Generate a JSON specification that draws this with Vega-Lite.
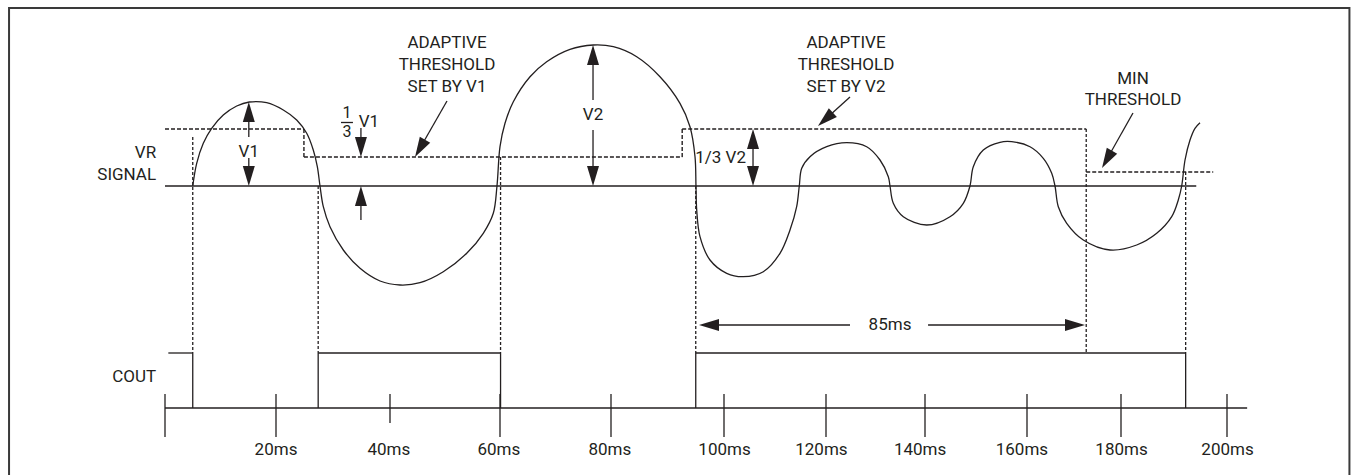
{
  "$schema": "https://vega.github.io/schema/vega-lite/v6.json",
  "width": 1351,
  "height": 475,
  "autosize": "none",
  "padding": 0,
  "background": "white",
  "config": {"view": {"stroke": null}},
  "datasets": {
    "frame": [{"t": -28.1, "t2": 223.1, "y": 17.8, "y2": -29.4}],
    "thresh": [
      {"t": 0, "y": 5.7, "t2": 24.9, "y2": 5.7},
      {"t": 24.9, "y": 5.7, "t2": 24.9, "y2": 2.9},
      {"t": 24.9, "y": 2.9, "t2": 92.6, "y2": 2.9},
      {"t": 92.6, "y": 2.9, "t2": 92.6, "y2": 5.7},
      {"t": 92.6, "y": 5.7, "t2": 172.6, "y2": 5.7},
      {"t": 172.6, "y": 1.4, "t2": 197.4, "y2": 1.4}
    ],
    "vdash": [
      {"t": 5.0, "y": 4.9, "t2": 5.0, "y2": -16.7},
      {"t": 27.4, "y": 0, "t2": 27.4, "y2": -16.7},
      {"t": 60.1, "y": 2.9, "t2": 60.1, "y2": -16.7},
      {"t": 95.0, "y": 0, "t2": 95.0, "y2": -16.7},
      {"t": 172.6, "y": 5.7, "t2": 172.6, "y2": -16.7},
      {"t": 192.2, "y": 1.4, "t2": 192.2, "y2": -16.7}
    ],
    "solid": [
      {"t": 0, "y": 0, "t2": 194.2, "y2": 0},
      {"t": 0.6, "y": -16.7, "t2": 5.0, "y2": -16.7},
      {"t": 5.0, "y": -16.7, "t2": 5.0, "y2": -22.2},
      {"t": 27.4, "y": -22.2, "t2": 27.4, "y2": -16.7},
      {"t": 27.4, "y": -16.7, "t2": 60.1, "y2": -16.7},
      {"t": 60.1, "y": -16.7, "t2": 60.1, "y2": -22.2},
      {"t": 95.0, "y": -22.2, "t2": 95.0, "y2": -16.7},
      {"t": 95.0, "y": -16.7, "t2": 192.2, "y2": -16.7},
      {"t": 192.2, "y": -16.7, "t2": 192.2, "y2": -22.2},
      {"t": 0, "y": -22.2, "t2": 203.8, "y2": -22.2},
      {"t": 15.1, "y": 6.4, "t2": 15.1, "y2": 4.9},
      {"t": 15.1, "y": 2.8, "t2": 15.1, "y2": 2.0},
      {"t": 34.9, "y": 5.8, "t2": 34.9, "y2": 4.9},
      {"t": 34.9, "y": -2.0, "t2": 34.9, "y2": -3.4},
      {"t": 76.76, "y": 12.1, "t2": 76.76, "y2": 8.6},
      {"t": 76.76, "y": 5.6, "t2": 76.76, "y2": 2.0},
      {"t": 105.69, "y": 3.7, "t2": 105.69, "y2": 2.0},
      {"t": 97.0, "y": -13.9, "t2": 124.85, "y2": -13.9},
      {"t": 140.6, "y": -13.9, "t2": 170.5, "y2": -13.9},
      {"t": 50.36, "y": 8.5, "t2": 45.45, "y2": 3.77},
      {"t": 124.85, "y": 8.9, "t2": 119.88, "y2": 6.67},
      {"t": 182.26, "y": 7.3, "t2": 177.0, "y2": 2.67},
      {"t": 31.4, "y": 6.35, "t2": 33.5, "y2": 6.35}
    ],
    "ticks": [
      {"t": 0, "y": -20.8, "y2": -25.1},
      {"t": 20, "y": -20.8, "y2": -25.1},
      {"t": 40, "y": -20.8, "y2": -23.7},
      {"t": 60, "y": -20.8, "y2": -25.1},
      {"t": 80, "y": -20.8, "y2": -25.1},
      {"t": 100, "y": -20.8, "y2": -25.1},
      {"t": 120, "y": -20.8, "y2": -25.1},
      {"t": 140, "y": -20.8, "y2": -25.1},
      {"t": 160, "y": -20.8, "y2": -25.1},
      {"t": 180, "y": -20.8, "y2": -25.1},
      {"t": 200, "y": -20.8, "y2": -25.1}
    ],
    "signal": [
      {"t": 5.0, "y": 0}, {"t": 5.71, "y": 2.27}, {"t": 6.9, "y": 4.27}, {"t": 8.41, "y": 5.77},
      {"t": 10.5, "y": 7.1}, {"t": 12.92, "y": 8.0}, {"t": 15.19, "y": 8.4}, {"t": 18.32, "y": 8.33},
      {"t": 21.28, "y": 7.6}, {"t": 23.63, "y": 6.6}, {"t": 25.39, "y": 5.27}, {"t": 26.54, "y": 3.6},
      {"t": 27.25, "y": 1.93}, {"t": 27.72, "y": 0}, {"t": 28.3, "y": -2.07}, {"t": 29.47, "y": -4.07},
      {"t": 31.81, "y": -6.4}, {"t": 34.74, "y": -8.23}, {"t": 38.25, "y": -9.5}, {"t": 41.82, "y": -9.9},
      {"t": 45.45, "y": -9.67}, {"t": 49.69, "y": -8.57}, {"t": 53.95, "y": -6.73}, {"t": 56.96, "y": -4.73},
      {"t": 58.78, "y": -2.73}, {"t": 59.45, "y": 0}, {"t": 60.0, "y": 3.93}, {"t": 60.9, "y": 6.27},
      {"t": 62.4, "y": 8.43}, {"t": 65.41, "y": 10.93}, {"t": 68.41, "y": 12.43}, {"t": 72.61, "y": 13.67},
      {"t": 76.81, "y": 14.1}, {"t": 80.41, "y": 13.93}, {"t": 84.55, "y": 12.93}, {"t": 88.67, "y": 10.93},
      {"t": 92.21, "y": 8.27}, {"t": 93.98, "y": 5.93}, {"t": 94.87, "y": 2.93}, {"t": 95.04, "y": 0},
      {"t": 95.17, "y": -2.4}, {"t": 95.75, "y": -5.07}, {"t": 97.52, "y": -7.4}, {"t": 100.53, "y": -8.73},
      {"t": 103.78, "y": -9.07}, {"t": 107.71, "y": -8.57}, {"t": 110.98, "y": -6.73}, {"t": 112.94, "y": -4.4},
      {"t": 114.25, "y": -2.07}, {"t": 114.76, "y": 0}, {"t": 115.24, "y": 1.77}, {"t": 116.86, "y": 2.93},
      {"t": 120.14, "y": 3.93}, {"t": 124.18, "y": 4.33}, {"t": 128.22, "y": 3.93}, {"t": 130.91, "y": 2.6},
      {"t": 132.59, "y": 0.93}, {"t": 132.93, "y": 0}, {"t": 133.6, "y": -1.73}, {"t": 135.62, "y": -3.07},
      {"t": 140.33, "y": -3.9}, {"t": 144.9, "y": -3.07}, {"t": 147.51, "y": -1.73}, {"t": 148.82, "y": 0},
      {"t": 149.47, "y": 1.93}, {"t": 151.43, "y": 3.6}, {"t": 154.71, "y": 4.37}, {"t": 157.0, "y": 4.43},
      {"t": 160.64, "y": 3.93}, {"t": 163.47, "y": 2.77}, {"t": 165.26, "y": 1.27}, {"t": 165.96, "y": 0},
      {"t": 166.66, "y": -2.07}, {"t": 168.45, "y": -3.73}, {"t": 171.98, "y": -5.4}, {"t": 177.66, "y": -6.4},
      {"t": 182.96, "y": -5.9}, {"t": 186.74, "y": -4.73}, {"t": 189.57, "y": -3.07}, {"t": 190.81, "y": -1.4},
      {"t": 191.45, "y": 0}, {"t": 192.08, "y": 2.6}, {"t": 193.02, "y": 4.6}, {"t": 193.96, "y": 5.77},
      {"t": 194.91, "y": 6.33}
    ],
    "heads": [
      {"t": 15.1, "y": 8.4, "dir": "up"},
      {"t": 76.76, "y": 14.1, "dir": "up"},
      {"t": 34.9, "y": 0, "dir": "up"},
      {"t": 105.69, "y": 5.7, "dir": "up"},
      {"t": 15.1, "y": 0, "dir": "down"},
      {"t": 34.9, "y": 2.9, "dir": "down"},
      {"t": 76.76, "y": 0, "dir": "down"},
      {"t": 105.69, "y": 0, "dir": "down"},
      {"t": 95.58, "y": -13.9, "dir": "left"},
      {"t": 172.34, "y": -13.9, "dir": "right"},
      {"t": 44.55, "y": 2.9, "dir": "downleft"},
      {"t": 175.96, "y": 1.8, "dir": "downleft"},
      {"t": 118.43, "y": 6.0, "dir": "downleft2"}
    ],
    "texts": [
      {"t": 50.36, "y": 14.3, "text": "ADAPTIVE"},
      {"t": 50.36, "y": 12.1, "text": "THRESHOLD"},
      {"t": 50.36, "y": 9.9, "text": "SET BY V1"},
      {"t": 124.04, "y": 14.3, "text": "ADAPTIVE"},
      {"t": 124.04, "y": 12.1, "text": "THRESHOLD"},
      {"t": 124.04, "y": 9.9, "text": "SET BY V2"},
      {"t": 182.26, "y": 10.75, "text": "MIN"},
      {"t": 182.26, "y": 8.6, "text": "THRESHOLD"},
      {"t": 15.1, "y": 3.45, "text": "V1"},
      {"t": 76.76, "y": 7.1, "text": "V2"},
      {"t": 36.3, "y": 6.4, "text": "V1"},
      {"t": 132.93, "y": -13.9, "text": "85ms"},
      {"t": 20.0, "y": -26.4, "text": "20ms"},
      {"t": 39.8, "y": -26.4, "text": "40ms"},
      {"t": 59.8, "y": -26.4, "text": "60ms"},
      {"t": 79.8, "y": -26.4, "text": "80ms"},
      {"t": 100.1, "y": -26.4, "text": "100ms"},
      {"t": 119.1, "y": -26.4, "text": "120ms"},
      {"t": 139.0, "y": -26.4, "text": "140ms"},
      {"t": 159.0, "y": -26.4, "text": "160ms"},
      {"t": 180.1, "y": -26.4, "text": "180ms"},
      {"t": 200.1, "y": -26.4, "text": "200ms"}
    ],
    "rtexts": [
      {"t": -1.6, "y": 3.3, "text": "VR"},
      {"t": -1.6, "y": 1.1, "text": "SIGNAL"},
      {"t": -1.6, "y": -19.05, "text": "COUT"},
      {"t": 104.31, "y": 2.8, "text": "1/3 V2"}
    ],
    "frac": [
      {"t": 32.46, "y": 7.35, "text": "1"},
      {"t": 32.46, "y": 5.4, "text": "3"}
    ]
  },
  "encoding": {
    "x": {
      "field": "t", "type": "quantitative", "axis": null,
      "scale": {
        "domain": [0, 20, 40, 60, 80, 100, 120, 140, 160, 180, 200],
        "range": [165, 276, 390, 500, 611, 724, 826, 925, 1027, 1121, 1227],
        "nice": false, "zero": false
      }
    },
    "y": {
      "field": "y", "type": "quantitative", "axis": null,
      "scale": {"domain": [-28.9, 18.6], "nice": false, "zero": false}
    }
  },
  "layer": [
    {
      "data": {"name": "frame"},
      "mark": {"type": "rect", "filled": false, "color": "#3a3a3a", "strokeWidth": 2},
      "encoding": {"x2": {"field": "t2"}, "y2": {"field": "y2"}}
    },
    {
      "data": {"name": "thresh"},
      "mark": {"type": "rule", "color": "#231f20", "strokeWidth": 1.4, "strokeDash": [4, 2]},
      "encoding": {"x2": {"field": "t2"}, "y2": {"field": "y2"}}
    },
    {
      "data": {"name": "vdash"},
      "mark": {"type": "rule", "color": "#231f20", "strokeWidth": 1.3, "strokeDash": [3, 2]},
      "encoding": {"x2": {"field": "t2"}, "y2": {"field": "y2"}}
    },
    {
      "data": {"name": "solid"},
      "mark": {"type": "rule", "color": "#231f20", "strokeWidth": 1.3},
      "encoding": {"x2": {"field": "t2"}, "y2": {"field": "y2"}}
    },
    {
      "data": {"name": "ticks"},
      "mark": {"type": "rule", "color": "#231f20", "strokeWidth": 1.3},
      "encoding": {"y2": {"field": "y2"}}
    },
    {
      "data": {"name": "signal"},
      "mark": {"type": "line", "color": "#231f20", "strokeWidth": 1.3, "interpolate": "catmull-rom"},
      "encoding": {}
    },
    {
      "data": {"name": "heads"},
      "transform": [{"filter": "datum.dir === 'up'"}],
      "mark": {"type": "point", "filled": true, "opacity": 1, "color": "#231f20", "strokeWidth": 0, "size": 1600, "shape": "M0,0L-0.3,1L0.3,1Z"}
    },
    {
      "data": {"name": "heads"},
      "transform": [{"filter": "datum.dir === 'down'"}],
      "mark": {"type": "point", "filled": true, "opacity": 1, "color": "#231f20", "strokeWidth": 0, "size": 1600, "shape": "M0,0L-0.3,-1L0.3,-1Z"}
    },
    {
      "data": {"name": "heads"},
      "transform": [{"filter": "datum.dir === 'left'"}],
      "mark": {"type": "point", "filled": true, "opacity": 1, "color": "#231f20", "strokeWidth": 0, "size": 1600, "shape": "M0,0L1,-0.3L1,0.3Z"}
    },
    {
      "data": {"name": "heads"},
      "transform": [{"filter": "datum.dir === 'right'"}],
      "mark": {"type": "point", "filled": true, "opacity": 1, "color": "#231f20", "strokeWidth": 0, "size": 1600, "shape": "M0,0L-1,-0.3L-1,0.3Z"}
    },
    {
      "data": {"name": "heads"},
      "transform": [{"filter": "datum.dir === 'downleft'"}],
      "mark": {"type": "point", "filled": true, "opacity": 1, "color": "#231f20", "strokeWidth": 0, "size": 1600, "shape": "M0,0L-0.3,1L0.3,1Z", "angle": 210}
    },
    {
      "data": {"name": "heads"},
      "transform": [{"filter": "datum.dir === 'downleft2'"}],
      "mark": {"type": "point", "filled": true, "opacity": 1, "color": "#231f20", "strokeWidth": 0, "size": 1600, "shape": "M0,0L-0.3,1L0.3,1Z", "angle": 228}
    },
    {
      "data": {"name": "texts"},
      "mark": {"type": "text", "align": "center", "baseline": "middle", "font": "Roboto", "fontSize": 17, "color": "#231f20"},
      "encoding": {"text": {"field": "text"}}
    },
    {
      "data": {"name": "rtexts"},
      "mark": {"type": "text", "align": "right", "baseline": "middle", "font": "Roboto", "fontSize": 17, "color": "#231f20"},
      "encoding": {"text": {"field": "text"}}
    },
    {
      "data": {"name": "frac"},
      "mark": {"type": "text", "align": "center", "baseline": "middle", "font": "Roboto", "fontSize": 16, "color": "#231f20"},
      "encoding": {"text": {"field": "text"}}
    }
  ]
}
